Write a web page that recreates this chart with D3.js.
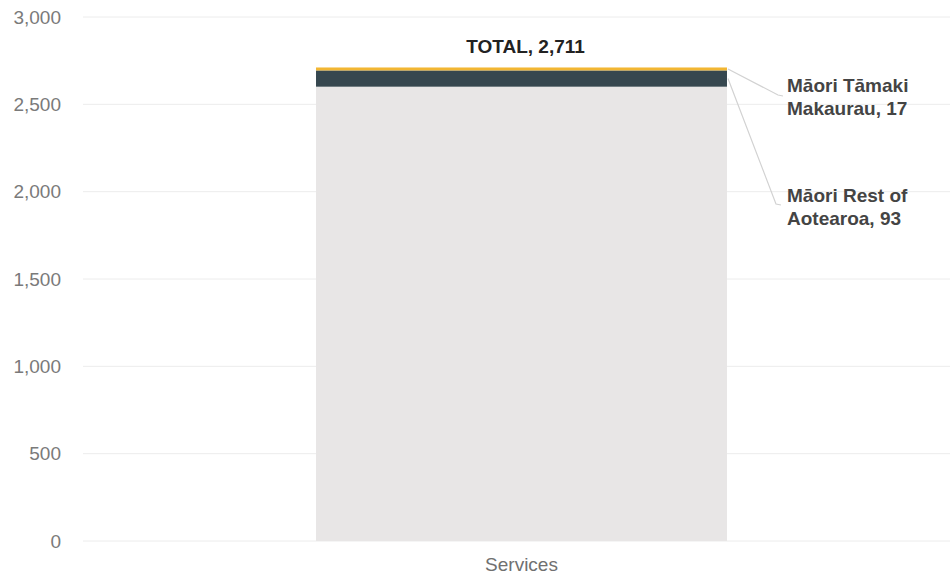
<!DOCTYPE html>
<html>
<head>
<meta charset="utf-8">
<script src="https://cdn.jsdelivr.net/npm/d3@7/dist/d3.min.js"></script>
<style>
  html, body { margin: 0; padding: 0; background: #fff; }
  svg { display: block; }
  text { font-family: "Liberation Sans", Arial, sans-serif; }
</style>
</head>
<body>
<svg id="chart" width="950" height="580"></svg>
<script>
// Chart data
const categories = ["Services"];
const seriesNames = ["Other", "Māori Rest of Aotearoa", "Māori Tāmaki Makaurau"];
const otherValues = [2601];
const maoriRestValues = [93];
const maoriTamakiValues = [17];
const totalValues = [2711];
const yTicks = [0, 500, 1000, 1500, 2000, 2500, 3000];
const seriesColors = ["#e8e6e6", "#36474f", "#f2b632"];

const svg = d3.select("#chart");
const width = 950, height = 580;
const margin = { top: 17, bottom: 39, left: 83 };

const y = d3.scaleLinear().domain([0, 3000]).range([height - margin.bottom, margin.top]);
const x = d3.scaleBand().domain(categories).range([margin.left, 960]).paddingInner(0).paddingOuter(0.567);

// Gridlines
svg.append("g")
  .selectAll("line")
  .data(yTicks)
  .join("line")
  .attr("x1", margin.left)
  .attr("x2", width)
  .attr("y1", d => y(d))
  .attr("y2", d => y(d))
  .attr("stroke", "#ececec")
  .attr("stroke-width", 1);

// Y axis labels
const yAxis = d3.axisLeft(y).tickValues(yTicks).tickFormat(d3.format(",")).tickSize(0).tickPadding(22);
const gy = svg.append("g").attr("transform", `translate(${margin.left},0)`).call(yAxis);
gy.select(".domain").remove();
gy.selectAll("text").attr("fill", "#7a7a7a").style("font-size", "19px")
  .style("font-family", "'Liberation Sans', Arial, sans-serif");

// Stack the series
const rows = categories.map((c, i) => ({
  category: c,
  [seriesNames[0]]: otherValues[i],
  [seriesNames[1]]: maoriRestValues[i],
  [seriesNames[2]]: maoriTamakiValues[i]
}));
const stacked = d3.stack().keys(seriesNames)(rows);

svg.append("g")
  .selectAll("g")
  .data(stacked)
  .join("g")
  .attr("fill", (d, i) => seriesColors[i])
  .selectAll("rect")
  .data(d => d)
  .join("rect")
  .attr("x", d => x(d.data.category))
  .attr("width", x.bandwidth())
  .attr("y", d => y(d[1]))
  .attr("height", d => y(d[0]) - y(d[1]));

// X axis labels
const xAxis = d3.axisBottom(x).tickSize(0).tickPadding(17);
const gx = svg.append("g").attr("transform", `translate(0,${height - margin.bottom})`).call(xAxis);
gx.select(".domain").remove();
gx.selectAll("text").attr("fill", "#707070").style("font-size", "19px")
  .style("font-family", "'Liberation Sans', Arial, sans-serif");

// Total label above the stack
categories.forEach((c, i) => {
  svg.append("text")
    .attr("x", x(c) + x.bandwidth() / 2 + 4)
    .attr("y", y(totalValues[i]) - 14.5)
    .attr("text-anchor", "middle")
    .attr("fill", "#222")
    .style("font-size", "19px")
    .style("font-weight", "bold")
    .text(`TOTAL, ${d3.format(",")(totalValues[i])}`);
});

// Callout annotations for the small segments
const barRight = x(categories[0]) + x.bandwidth();
const tamakiMid = (y(otherValues[0] + maoriRestValues[0]) + y(totalValues[0])) / 2;
const restMid = (y(otherValues[0]) + y(otherValues[0] + maoriRestValues[0])) / 2;
const labelX = 787;
const callouts = [
  { lines: ["Māori Tāmaki", `Makaurau, ${maoriTamakiValues[0]}`], from: [barRight + 1, tamakiMid], to: [778, 95], textY: 92 },
  { lines: ["Māori Rest of", `Aotearoa, ${maoriRestValues[0]}`], from: [barRight + 1, restMid], to: [776, 204], textY: 202 }
];

callouts.forEach(cl => {
  svg.append("path")
    .attr("d", `M${cl.from[0]},${cl.from[1]}L${cl.to[0]},${cl.to[1]}l5,1`)
    .attr("fill", "none")
    .attr("stroke", "#d2d2d2").attr("stroke-width", 1.2);
  const t = svg.append("text")
    .attr("x", labelX).attr("y", cl.textY)
    .attr("fill", "#444")
    .style("font-size", "19px")
    .style("font-weight", "bold");
  cl.lines.forEach((ln, k) => {
    t.append("tspan").attr("x", labelX).attr("dy", k === 0 ? 0 : 23).text(ln);
  });
});
</script>
</body>
</html>
